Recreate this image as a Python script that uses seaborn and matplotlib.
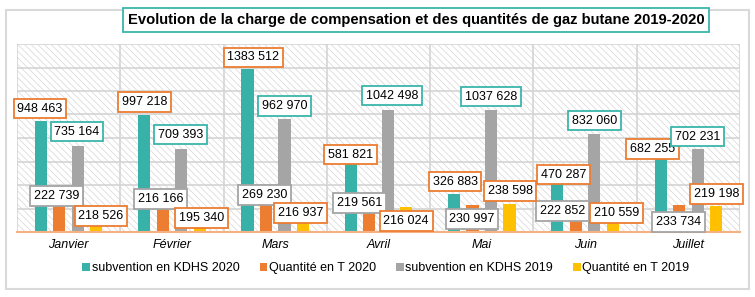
import numpy as np
import pandas as pd
import matplotlib
matplotlib.use('Agg')
from matplotlib import pyplot as plt
from matplotlib.patches import Rectangle, Patch
import seaborn as sns

# données
mois = ['Janvier', 'Février', 'Mars', 'Avril', 'Mai', 'Juin', 'Juillet']
series = ['subvention en KDHS 2020', 'Quantité en T 2020',
          'subvention en KDHS 2019', 'Quantité en T 2019']
subv_2020 = [948463, 997218, 1383512, 581821, 326883, 470287, 682255]
qte_2020 = [222739, 216166, 269230, 219561, 230997, 222852, 233734]
subv_2019 = [735164, 709393, 962970, 1042498, 1037628, 832060, 702231]
qte_2019 = [218526, 195340, 216937, 216024, 238598, 210559, 219198]

couleurs = ['#38B2A8', '#ED7D31', '#A5A5A5', '#FFC000']
bord_labels = ['#ED7D31', '#A5A5A5', '#3AB5AB', '#ED7D31']

# décalage des étiquettes (pixels, par rapport au sommet de la barre)
dx = [[-1, 0.5, 6, -0.5, 1, 6.5, -8],
      [-2.5, -2, -1.5, -10, -0.5, -13, -0.5],
      [-1, -0.5, 0, 4.5, 0, 0.5, 0],
      [4.5, 2, -2.5, 0, 0.5, 4, 0.5]]
dy = [[12, 13, 12, 9, 12, 2, 3],
      [10, 7.7, 5.5, 3.3, -14, -5, -17.4],
      [14, 14, 13, 14, 13.5, 13.6, 12.8],
      [-9.6, -8.9, -6.4, -14.3, 13, -5.7, 12.3]]

vals = [subv_2020, qte_2020, subv_2019, qte_2019]
df = pd.DataFrame({
    'mois': mois * 4,
    'serie': np.repeat(series, len(mois)),
    'valeur': np.concatenate(vals),
})

plt.rcParams['font.family'] = ['Liberation Sans', 'DejaVu Sans']
plt.rcParams['hatch.linewidth'] = 0.5

fig = plt.figure(figsize=(7.55, 2.97), dpi=100)
fig.patches.append(Rectangle((6 / 755, 1 - 289 / 297), 743 / 755, 279 / 297,
                             transform=fig.transFigure, fill=False,
                             edgecolor='#d9d9d9', lw=1.5, zorder=0))
ax = fig.add_axes([17 / 755, 1 - 232 / 297, 723 / 755, 188 / 297])

# fond hachuré
ax.add_patch(Rectangle((0, 0), 1, 1, transform=ax.transAxes, facecolor='white',
                       edgecolor='#d6d6d6', hatch='\\\\\\\\\\', lw=0, zorder=0))

sns.barplot(data=df, x='mois', y='valeur', hue='serie', hue_order=series,
            order=mois, palette=couleurs, width=0.716, gap=0.34,
            saturation=1, legend=False, ax=ax, zorder=2)

ax.set_xlim(-0.5, 6.5)
ax.set_ylim(0, 1600000)
ax.set_yticks(np.arange(0, 1600001, 200000))
ax.set_xticks(np.arange(-0.5, 7, 1), minor=True)
ax.yaxis.grid(True, color='#d4d4d4', lw=1.2)
ax.xaxis.grid(True, which='minor', color='#d4d4d4', lw=1.2)
ax.set_axisbelow(True)
ax.tick_params(which='both', left=False, labelleft=False, bottom=False, length=0)
ax.tick_params(axis='x', pad=5)
for lab in ax.get_xticklabels():
    lab.set_fontstyle('italic')
    lab.set_fontsize(9)
ax.set_xlabel('')
ax.set_ylabel('')
for s in ['top', 'left', 'right']:
    ax.spines[s].set_visible(False)
ax.spines['bottom'].set_color('#F4B183')
ax.spines['bottom'].set_linewidth(1.5)


def fmt(v):
    v = int(round(v))
    return f"{v // 1000} {v % 1000:03d}"


# étiquettes
for k, cont in enumerate(ax.containers):
    for i, bar in enumerate(cont):
        x = bar.get_x() + bar.get_width() / 2
        h = bar.get_height()
        ax.annotate(fmt(h), (x, h), xytext=(dx[k][i], dy[k][i]),
                    textcoords='offset pixels', ha='center', va='center',
                    fontsize=9, zorder=5,
                    bbox=dict(boxstyle='square,pad=0.3', fc='white',
                              ec=bord_labels[k], lw=1.3))

handles = [Patch(facecolor=c, edgecolor='none') for c in couleurs]
fig.legend(handles, series, loc='center', bbox_to_anchor=(386 / 755, 1 - 268 / 297),
           ncol=4, frameon=False, fontsize=9, handlelength=0.6, handleheight=0.6,
           handletextpad=0.15, columnspacing=1.6)

fig.text(416 / 755, 1 - 20 / 297,
         'Evolution de la charge de compensation et des quantités de gaz butane 2019-2020',
         ha='center', va='center', fontsize=10.6, fontweight='bold',
         bbox=dict(boxstyle='square,pad=0.35', fc='white', ec='#3AB5AB', lw=1.3))

plt.savefig('out.png', dpi=100)
plt.close()
